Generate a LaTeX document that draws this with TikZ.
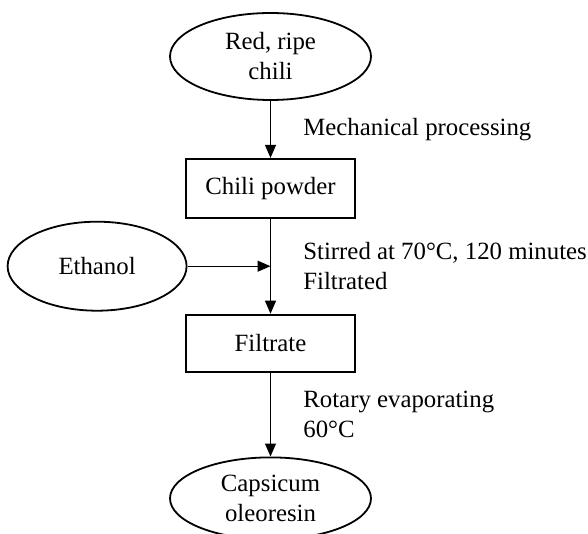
\documentclass[tikz,border=0pt]{standalone}
\usepackage{fontspec}
\setmainfont{Liberation Serif}
\usepackage{tikz}
\usetikzlibrary{arrows.meta,positioning,calc,shapes.geometric}

\begin{document}
\begin{tikzpicture}[
  node distance=28.5pt,
  font=\fontsize{12.4}{15}\selectfont,
  source/.style={draw, ellipse, line width=0.9pt, minimum width=100.5pt,
    minimum height=43.5pt, align=center, inner sep=0pt},
  stage/.style={draw, rectangle, line width=0.9pt, minimum width=84.5pt,
    minimum height=29.5pt, align=center, inner sep=2pt},
  note/.style={anchor=west, align=left, inner sep=0pt},
  flow/.style={-{Triangle[length=6.5pt, width=5.5pt]}, line width=0.6pt}
]
\useasboundingbox (0,0) rectangle (294pt,-267pt);
\node[source] (chili) at (135.25pt,-28.25pt) {Red, ripe\\chili};
\node[stage, below=of chili] (powder) {Chili powder};
\node[stage, below=47.5pt of powder, minimum height=28.5pt] (filtrate) {Filtrate};
\node[source, below=42pt of filtrate, minimum height=41pt] (oleoresin) {Capsicum\\oleoresin};
\coordinate (mix) at ($(powder.south)!0.5!(filtrate.north)$);
\node[source, left=41.5pt of mix, minimum width=89.5pt, minimum height=44.5pt] (ethanol) {Ethanol};
% process notes
\node[note] (grind) at ([xshift=16.25pt]$(chili.south)!0.5!(powder.north)$) {Mechanical processing};
\node[note] (stir) at ([xshift=16.25pt]mix) {Stirred at 70°C, 120 minutes\\Filtrated};
\node[note] (evap) at ([xshift=16.25pt]$(filtrate.south)!0.5!(oleoresin.north)$) {Rotary evaporating\\60°C};
\draw[flow] (chili) -- (powder);
\draw[flow] (powder) -- (filtrate);
\draw[flow] (ethanol) -- (mix);
\draw[flow] (filtrate) -- (oleoresin);
\end{tikzpicture}
\end{document}
